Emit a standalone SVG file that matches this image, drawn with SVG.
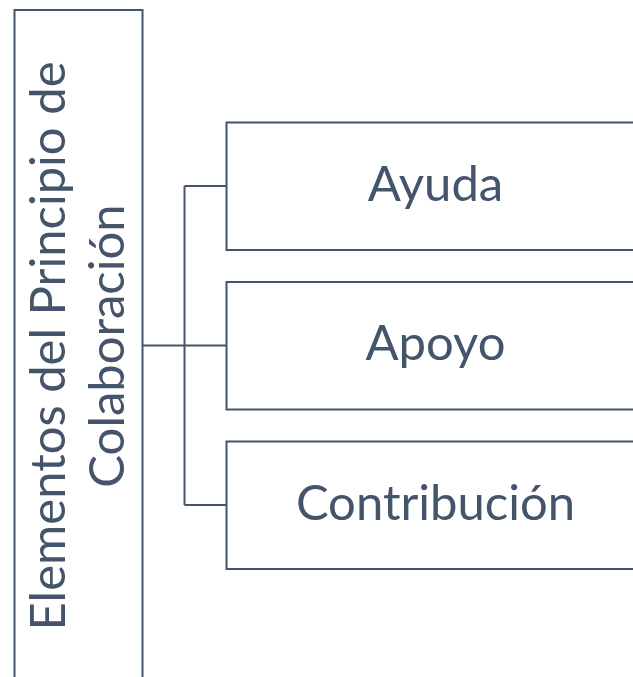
<svg xmlns="http://www.w3.org/2000/svg" width="633" height="677" viewBox="0 0 633 677">
<style>
.box{fill:#ffffff;stroke:#44546A;stroke-width:2}
.lbl{font-family:Lato,"Open Sans","Liberation Sans",sans-serif;font-size:49px;fill:#44546A;text-anchor:middle}
.conn{fill:none;stroke:#44546A;stroke-width:2}
</style>
<rect width="633" height="677" fill="#ffffff"/>
<g id="root">
<rect class="box" x="14.5" y="10" width="128" height="690"/>
<text class="lbl" transform="translate(65,346) rotate(-90)" x="0" y="0">Elementos del Principio de</text>
<text class="lbl" transform="translate(124,346) rotate(-90)" x="0" y="0">Colaboración</text>
</g>
<g id="connectors">
<path class="conn" d="M142.5,345.5 H226.5 M184.5,186 V505 M184.5,186 H226.5 M184.5,505 H226.5"/>
</g>
<g id="ayuda">
<rect class="box" x="226.5" y="122.5" width="420" height="127.5"/>
<text class="lbl" x="435.5" y="200.7">Ayuda</text>
</g>
<g id="apoyo">
<rect class="box" x="226.5" y="282" width="420" height="127.5"/>
<text class="lbl" x="435.5" y="360.2">Apoyo</text>
</g>
<g id="contribucion">
<rect class="box" x="226.5" y="441.5" width="420" height="127.5"/>
<text class="lbl" x="435.5" y="519.7">Contribución</text>
</g>
</svg>
